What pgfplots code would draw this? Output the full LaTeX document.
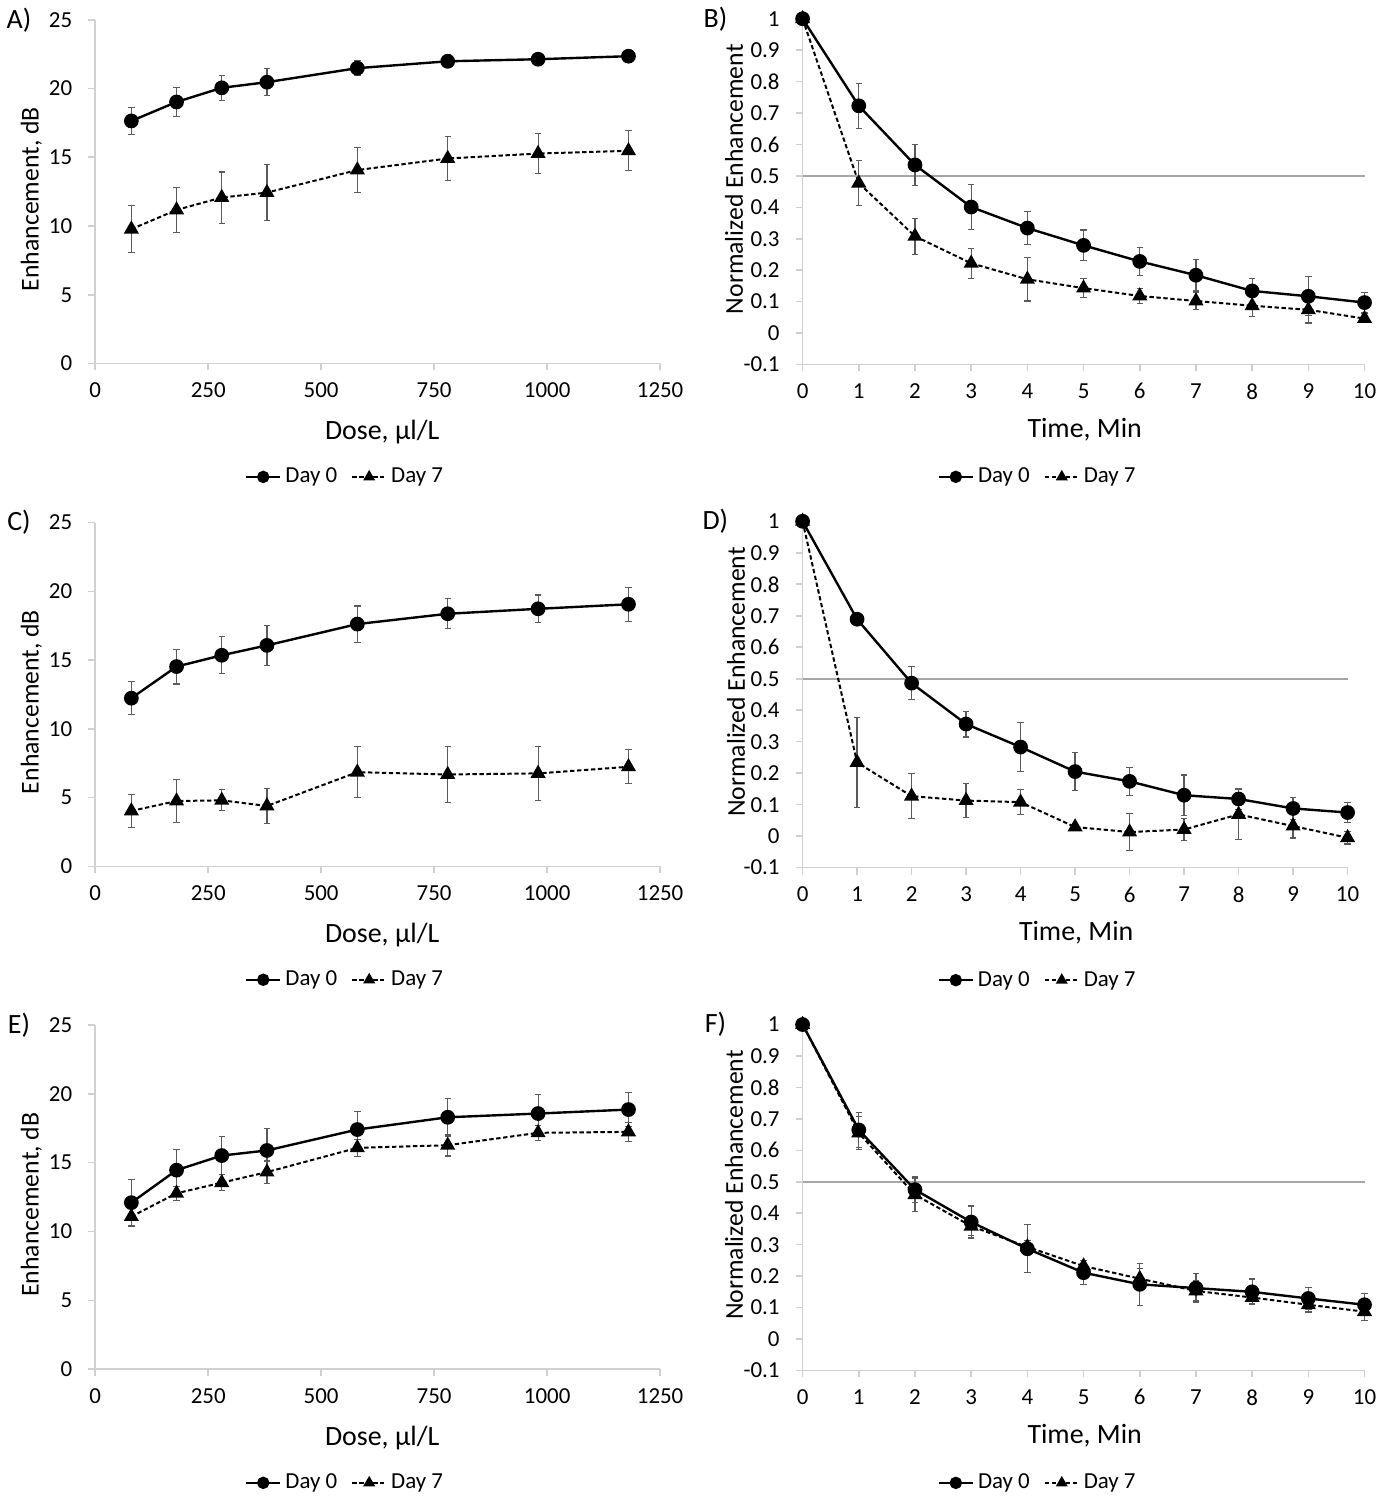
\documentclass[border=0pt]{standalone}
\usepackage{pgfplots}
\pgfplotsset{compat=1.18}
\usepackage{fontspec}
\setmainfont{Carlito}
\definecolor{axgray}{HTML}{D0D0D0}
\definecolor{errgray}{HTML}{5A5A5A}
\definecolor{halfgray}{HTML}{A6A6A6}
\tikzset{plabel/.style={font=\fontsize{14}{16}\selectfont, anchor=center}}
\pgfplotsset{
  base/.style={
    scale only axis, clip=false,
    axis lines*=left,
    axis line style={draw=axgray, line width=0.8pt},
    tick style={draw=axgray, line width=0.8pt},
    tick align=outside, major tick length=3.5pt,
    tick label style={font=\fontsize{11.5}{13}\selectfont, text=black},
    xticklabel style={yshift=-2.5pt},
    yticklabel style={xshift=-4.5pt},
    xlabel style={font=\fontsize{14}{16}\selectfont},
    ylabel style={font=\fontsize{12.9}{15}\selectfont},
    legend style={draw=none, fill=none, font=\fontsize{11.5}{13}\selectfont,
      legend columns=2, anchor=center, inner sep=0pt,
      /tikz/every even column/.append style={column sep=5pt}},
    legend cell align=left,
    legend image post style={mark size=2.5pt},
  },
  doseax/.style={base,
    width=283.5pt, height=172.5pt,
    xmin=0, xmax=1250, ymin=0, ymax=25,
    xtick={0,250,500,750,1000,1250}, xticklabels={0,250,500,750,1000,1250},
    ytick={0,5,10,15,20,25}, yticklabels={0,5,10,15,20,25},
    xlabel={Dose, µl/L}, ylabel={Enhancement, dB},
    xlabel style={at={(axis description cs:0.508,-0.2)}, anchor=center},
    ylabel style={at={(axis description cs:-0.113,0.478)}, anchor=center},
    legend style={at={(axis description cs:0.444,-0.33)}},
  },
  timeax/.style={base,
    width=282pt, height=173.5pt,
    xmin=0, xmax=10, ymin=-0.1, ymax=1,
    xtick={0,1,2,3,4,5,6,7,8,9,10}, xticklabels={0,1,2,3,4,5,6,7,8,9,10},
    ytick={-0.1,0,0.1,0.2,0.3,0.4,0.5,0.6,0.7,0.8,0.9,1},
    yticklabels={-0.1,0,0.1,0.2,0.3,0.4,0.5,0.6,0.7,0.8,0.9,1},
    xlabel={Time, Min}, ylabel={Normalized Enhancement},
    xlabel style={at={(axis description cs:0.502,-0.189)}, anchor=center},
    ylabel style={at={(axis description cs:-0.122,0.536)}, anchor=center},
    legend style={at={(axis description cs:0.42,-0.325)}},
  },
  d0/.style={black, line width=1.2pt, mark=*, mark size=3.1pt, mark options={solid, fill=black},
    error bars/.cd, y dir=both, y explicit,
    error bar style={errgray, line width=0.6pt, solid},
    error mark options={errgray, rotate=90, mark size=1.6pt, line width=0.6pt}},
  d7/.style={black, line width=1pt, dash pattern=on 2.2pt off 1.3pt, mark=triangle*, mark size=3.4pt, mark options={solid, fill=black},
    error bars/.cd, y dir=both, y explicit,
    error bar style={errgray, line width=0.6pt, solid},
    error mark options={errgray, rotate=90, mark size=1.6pt, line width=0.6pt}},
  half/.style={halfgray, line width=1pt, no marks, forget plot},
}
\begin{document}
\begin{tikzpicture}[x=1pt,y=1pt]
\path (0,0) rectangle (690,750);
% ---------------- A
\begin{axis}[doseax, at={(46.5pt,570.35pt)}, anchor=south west]
\addplot[d0] coordinates {
(80,17.64) +- (0,0.97) (180,19.02) +- (0,1.05) (280,20.05) +- (0,0.9) (380,20.46) +- (0,0.97)
(580,21.48) +- (0,0.53) (780,21.98) +- (0,0.48) (980,22.13) +- (0,0.1) (1180,22.35) +- (0,0.28)};
\addlegendentry{Day 0}
\addplot[d7] coordinates {
(80,9.77) +- (0,1.71) (180,11.17) +- (0,1.65) (280,12.07) +- (0,1.86) (380,12.43) +- (0,2.05)
(580,14.07) +- (0,1.65) (780,14.91) +- (0,1.59) (980,15.27) +- (0,1.47) (1180,15.47) +- (0,1.45)};
\addlegendentry{Day 7}
\node[plabel] at (axis description cs:-0.135,1.0) {A)};
\end{axis}
% ---------------- B
\begin{axis}[timeax, at={(401.5pt,569.85pt)}, anchor=south west]
\addplot[half] coordinates {(0,0.5) (10,0.5)};
\addplot[d0] coordinates {
(0,1.0) +- (0,0) (1,0.723) +- (0,0.072) (2,0.535) +- (0,0.065) (3,0.401) +- (0,0.072)
(4,0.334) +- (0,0.053) (5,0.279) +- (0,0.049) (6,0.228) +- (0,0.045) (7,0.184) +- (0,0.05)
(8,0.134) +- (0,0.04) (9,0.117) +- (0,0.062) (10,0.097) +- (0,0.033)};
\addlegendentry{Day 0}
\addplot[d7] coordinates {
(0,1.0) +- (0,0) (1,0.477) +- (0,0.072) (2,0.308) +- (0,0.057) (3,0.222) +- (0,0.048)
(4,0.171) +- (0,0.069) (5,0.143) +- (0,0.031) (6,0.118) +- (0,0.025) (7,0.102) +- (0,0.026)
(8,0.087) +- (0,0.034) (9,0.074) +- (0,0.042) (10,0.046) +- (0,0.005)};
\addlegendentry{Day 7}
\node[plabel] at (axis description cs:-0.155,1.0) {B)};
\end{axis}
% ---------------- C
\begin{axis}[doseax, at={(46.5pt,318pt)}, anchor=south west]
\addplot[d0] coordinates {
(80,12.23) +- (0,1.19) (180,14.53) +- (0,1.27) (280,15.35) +- (0,1.34) (380,16.07) +- (0,1.47)
(580,17.62) +- (0,1.32) (780,18.37) +- (0,1.1) (980,18.73) +- (0,1.0) (1180,19.06) +- (0,1.24)};
\addlegendentry{Day 0}
\addplot[d7] coordinates {
(80,4.03) +- (0,1.19) (180,4.75) +- (0,1.57) (280,4.8) +- (0,0.76) (380,4.39) +- (0,1.29)
(580,6.85) +- (0,1.85) (780,6.68) +- (0,2.04) (980,6.76) +- (0,1.95) (1180,7.24) +- (0,1.23)};
\addlegendentry{Day 7}
\node[plabel] at (axis description cs:-0.135,1.0) {C)};
\end{axis}
% ---------------- D
\begin{axis}[timeax, width=273.5pt, height=173.8pt, at={(401.5pt,317.35pt)}, anchor=south west,
  legend style={at={(axis description cs:0.433,-0.325)}}]
\addplot[half] coordinates {(0,0.5) (10,0.5)};
\addplot[d0] coordinates {
(0,1.0) +- (0,0) (1,0.689) +- (0,0.016) (2,0.486) +- (0,0.053) (3,0.356) +- (0,0.041)
(4,0.283) +- (0,0.077) (5,0.205) +- (0,0.061) (6,0.174) +- (0,0.044) (7,0.130) +- (0,0.064)
(8,0.118) +- (0,0.034) (9,0.088) +- (0,0.035) (10,0.075) +- (0,0.031)};
\addlegendentry{Day 0}
\addplot[d7] coordinates {
(0,1.0) +- (0,0) (1,0.234) +- (0,0.143) (2,0.127) +- (0,0.071) (3,0.113) +- (0,0.054)
(4,0.108) +- (0,0.04) (5,0.029) +- (0,0.012) (6,0.013) +- (0,0.059) (7,0.021) +- (0,0.035)
(8,0.069) +- (0,0.079) (9,0.032) +- (0,0.038) (10,-0.005) +- (0,0.02)};
\addlegendentry{Day 7}
\node[plabel] at (axis description cs:-0.16,1.0) {D)};
\end{axis}
% ---------------- E
\begin{axis}[doseax, height=172.8pt, at={(46.5pt,65.65pt)}, anchor=south west]
\addplot[d0] coordinates {
(80,12.09) +- (0,1.69) (180,14.45) +- (0,1.48) (280,15.51) +- (0,1.39) (380,15.88) +- (0,1.57)
(580,17.4) +- (0,1.33) (780,18.29) +- (0,1.36) (980,18.56) +- (0,1.39) (1180,18.85) +- (0,1.24)};
\addlegendentry{Day 0}
\addplot[d7] coordinates {
(80,11.08) +- (0,0.69) (180,12.77) +- (0,0.51) (280,13.54) +- (0,0.57) (380,14.31) +- (0,0.81)
(580,16.07) +- (0,0.6) (780,16.26) +- (0,0.78) (980,17.16) +- (0,0.54) (1180,17.23) +- (0,0.7)};
\addlegendentry{Day 7}
\node[plabel] at (axis description cs:-0.135,1.0) {E)};
\end{axis}
% ---------------- F
\begin{axis}[timeax, height=173.6pt, at={(401.5pt,65pt)}, anchor=south west]
\addplot[half] coordinates {(0,0.5) (10,0.5)};
\addplot[d0] coordinates {
(0,1.0) +- (0,0) (1,0.665) +- (0,0.055) (2,0.475) +- (0,0.042) (3,0.372) +- (0,0.051)
(4,0.287) +- (0,0.076) (5,0.211) +- (0,0.038) (6,0.174) +- (0,0.067) (7,0.162) +- (0,0.046)
(8,0.150) +- (0,0.041) (9,0.129) +- (0,0.034) (10,0.109) +- (0,0.035)};
\addlegendentry{Day 0}
\addplot[d7] coordinates {
(0,1.0) +- (0,0) (1,0.655) +- (0,0.052) (2,0.459) +- (0,0.053) (3,0.359) +- (0,0.029)
(4,0.293) +- (0,0.021) (5,0.232) +- (0,0.018) (6,0.192) +- (0,0.033) (7,0.153) +- (0,0.032)
(8,0.132) +- (0,0.018) (9,0.109) +- (0,0.023) (10,0.087) +- (0,0.027)};
\addlegendentry{Day 7}
\node[plabel] at (axis description cs:-0.155,1.0) {F)};
\end{axis}
\end{tikzpicture}
\end{document}
